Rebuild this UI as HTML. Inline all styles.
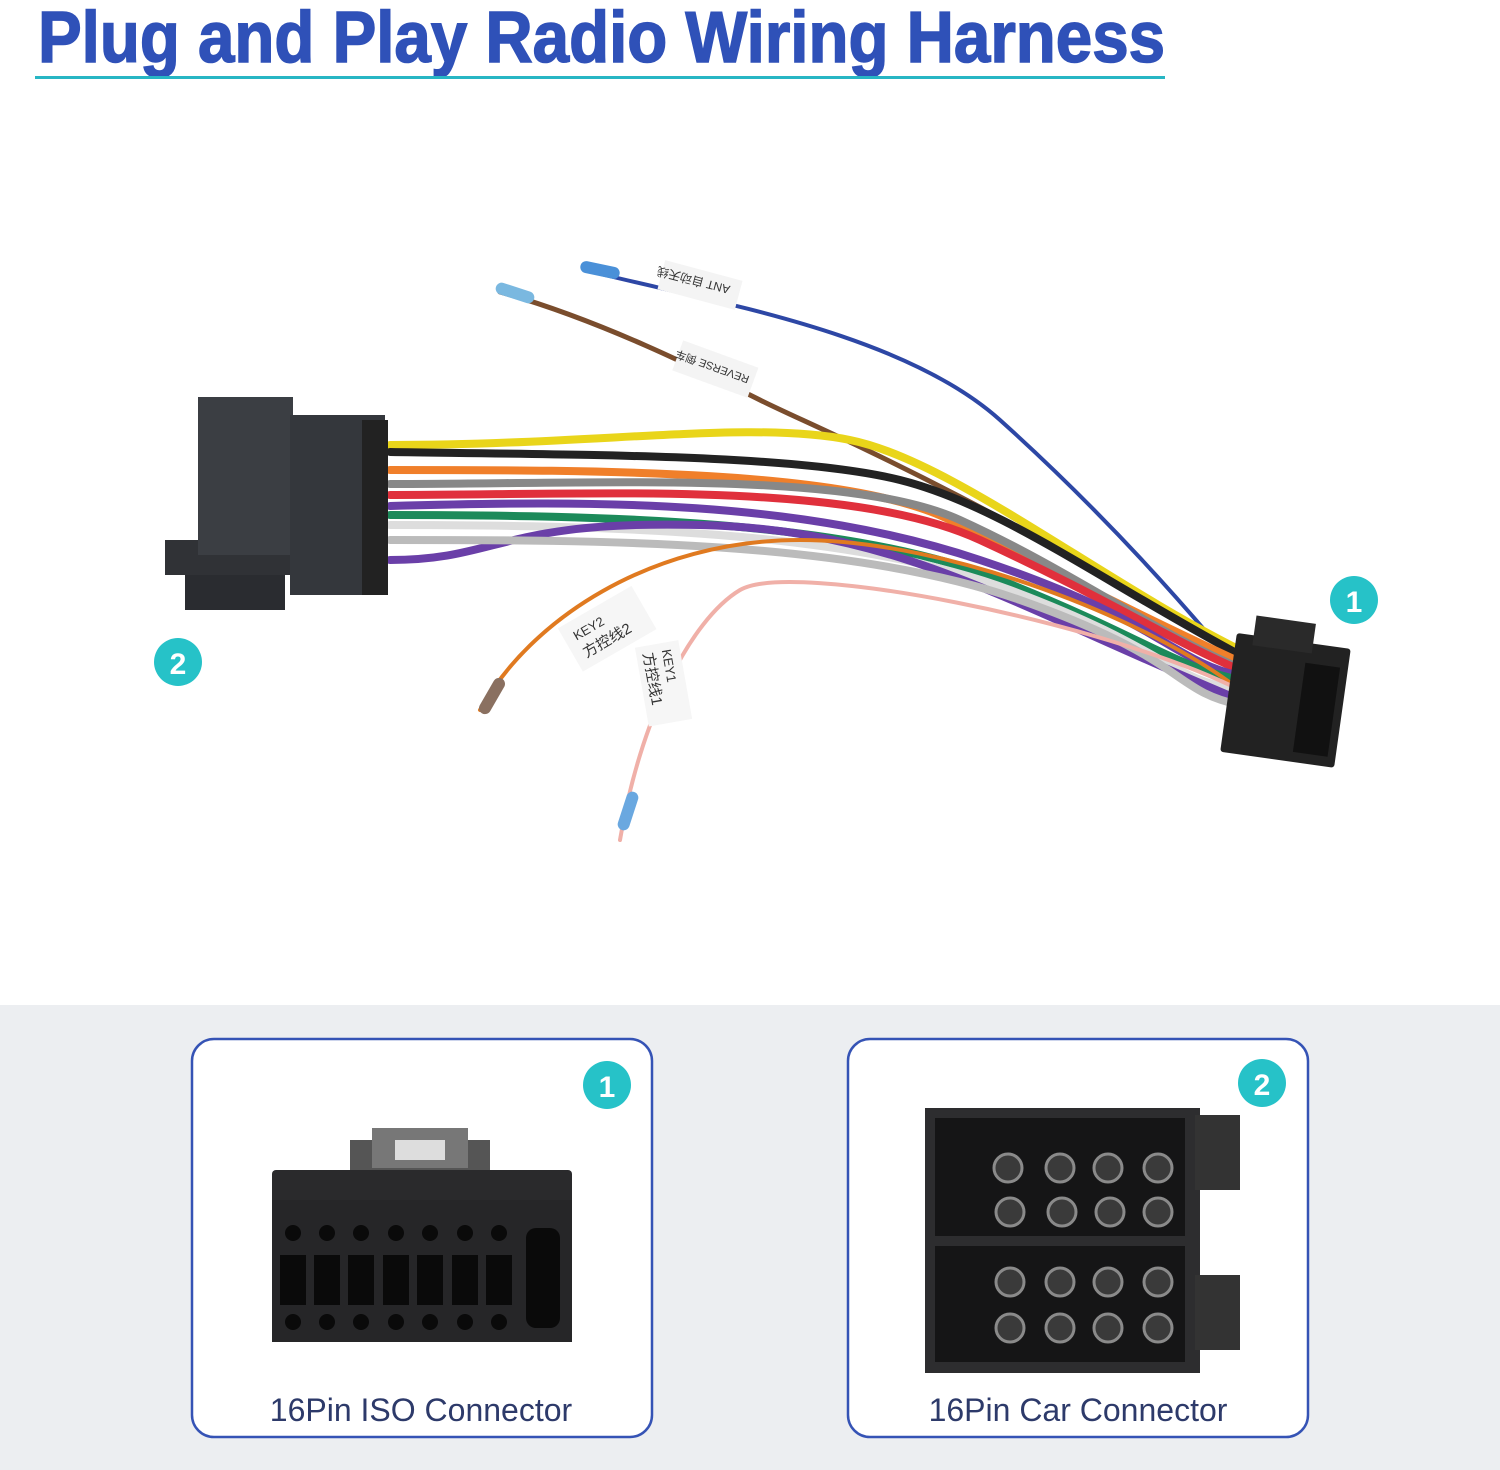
<!DOCTYPE html>
<html><head><meta charset="utf-8"><style>
html,body{margin:0;padding:0;width:1500px;height:1470px;background:#fff;overflow:hidden;font-family:"Liberation Sans","Noto Sans CJK SC",sans-serif}
svg{position:absolute;left:0;top:0}
</style></head><body>
<svg width="1500" height="1470" viewBox="0 0 1500 1470" xmlns="http://www.w3.org/2000/svg">
<rect x="0" y="1005" width="1500" height="465" fill="#eceef1"/>
<text x="38" y="62" font-family="Liberation Sans, sans-serif" font-weight="bold" font-size="72" fill="#2f51b8" stroke="#2f51b8" stroke-width="1.5" textLength="1127" lengthAdjust="spacingAndGlyphs">Plug and Play Radio Wiring Harness</text>
<rect x="35" y="76" width="1130" height="3" fill="#27b6c4"/>

<g fill="none" stroke-linecap="round">
<path d="M585 270 C700 300 900 330 1000 420 S1180 600 1230 660" stroke="#2d47a5" stroke-width="4"/>
<path d="M500 292 C600 320 700 370 760 400 S950 480 1230 650" stroke="#7a4d2d" stroke-width="5"/>
<path d="M390 445 C600 445 750 420 850 440 S1100 580 1240 650" stroke="#e9d51a" stroke-width="8"/>
<path d="M390 452 C600 455 800 455 900 480 S1100 580 1240 655" stroke="#222" stroke-width="8"/>
<path d="M390 470 C600 470 850 470 950 520 S1150 620 1240 662" stroke="#f07f2a" stroke-width="8"/>
<path d="M390 484 C600 484 850 470 960 520 S1150 630 1240 668" stroke="#888" stroke-width="8"/>
<path d="M390 495 C600 495 850 480 980 540 S1170 640 1240 670" stroke="#e0303c" stroke-width="8"/>
<path d="M390 506 C600 500 800 500 980 560 S1170 660 1240 676" stroke="#6a3fa8" stroke-width="8"/>
<path d="M390 515 C600 515 850 520 1000 580 S1170 665 1240 680" stroke="#1c8a5a" stroke-width="8"/>
<path d="M390 525 C600 525 850 530 1010 590 S1170 680 1240 690" stroke="#ddd" stroke-width="8"/>
<path d="M390 560 C500 560 500 520 700 525 S1000 600 1240 700" stroke="#6a3fa8" stroke-width="8"/>
<path d="M390 540 C600 540 850 540 1020 600 S1170 690 1240 705" stroke="#bbb" stroke-width="8"/>
<path d="M480 710 C530 620 650 540 800 540 S1150 620 1240 690" stroke="#e07a20" stroke-width="4"/>
<path d="M620 840 C640 720 690 620 740 590 S1100 620 1240 690" stroke="#f0b0a8" stroke-width="4"/>
</g>
<rect x="580" y="264" width="40" height="12" rx="6" fill="#4a90d8" transform="rotate(12 600 270)"/>
<rect x="495" y="287" width="40" height="12" rx="6" fill="#7ab8e0" transform="rotate(18 515 293)"/>
<rect x="472" y="690" width="40" height="12" rx="6" fill="#8a7060" transform="rotate(-60 492 696)"/>
<rect x="608" y="805" width="40" height="12" rx="6" fill="#6aa8e0" transform="rotate(-72 628 811)"/>
<g transform="rotate(195 700 285)"><rect x="660" y="270" width="80" height="30" fill="#f4f4f4"/><text x="670" y="292" font-size="12" fill="#333">ANT 自动天线</text></g>
<g transform="rotate(200 715 370)"><rect x="675" y="355" width="80" height="32" fill="#f4f4f4"/><text x="680" y="376" font-size="11" fill="#333">REVERSE 倒车</text></g>
<g transform="rotate(-30 605 630)"><rect x="565" y="605" width="85" height="50" fill="#f6f6f6"/><text x="575" y="625" font-size="13" fill="#333">KEY2</text><text x="575" y="645" font-size="15" fill="#333">方控线2</text></g>
<g transform="rotate(80 665 680)"><rect x="628" y="660" width="80" height="44" fill="#f6f6f6"/><text x="635" y="678" font-size="13" fill="#333">KEY1</text><text x="635" y="697" font-size="15" fill="#333">方控线1</text></g>

<rect x="185" y="575" width="100" height="35" fill="#2a2c30"/>
<rect x="165" y="540" width="125" height="35" fill="#303236"/>
<rect x="198" y="397" width="95" height="158" fill="#3b3e43"/>
<rect x="290" y="415" width="95" height="180" fill="#34373c"/>
<rect x="362" y="420" width="26" height="175" fill="#222"/>
<g transform="rotate(8 1283 700)">
<rect x="1228" y="640" width="115" height="120" fill="#222" rx="3"/>
<rect x="1245" y="620" width="60" height="30" fill="#2a2a2a"/>
<rect x="1300" y="660" width="35" height="90" fill="#111"/>
</g>
<circle cx="1354" cy="600" r="24" fill="#26c2c8"/><text x="1354" y="612" text-anchor="middle" font-size="30" font-weight="bold" fill="#fff">1</text>
<circle cx="178" cy="662" r="24" fill="#26c2c8"/><text x="178" y="674" text-anchor="middle" font-size="30" font-weight="bold" fill="#fff">2</text>

<rect x="192" y="1039" width="460" height="398" rx="22" fill="#fff" stroke="#3553b5" stroke-width="2.5"/>
<rect x="848" y="1039" width="460" height="398" rx="22" fill="#fff" stroke="#3553b5" stroke-width="2.5"/>
<circle cx="607" cy="1085" r="24" fill="#26c2c8"/><text x="607" y="1097" text-anchor="middle" font-size="30" font-weight="bold" fill="#fff">1</text>
<circle cx="1262" cy="1083" r="24" fill="#26c2c8"/><text x="1262" y="1095" text-anchor="middle" font-size="30" font-weight="bold" fill="#fff">2</text>
<text x="421" y="1421" text-anchor="middle" font-size="32" fill="#2d3a6a">16Pin ISO Connector</text>
<text x="1078" y="1421" text-anchor="middle" font-size="32" fill="#2d3a6a">16Pin Car Connector</text>

<rect x="350" y="1140" width="140" height="62" fill="#555"/>
<rect x="372" y="1128" width="96" height="40" fill="#777"/>
<rect x="395" y="1140" width="50" height="20" fill="#ddd"/>
<rect x="272" y="1170" width="300" height="172" fill="#2a2a2c" rx="4"/>
<rect x="272" y="1200" width="300" height="142" fill="#262628"/>
<g fill="#0a0a0a">
<circle cx="293" cy="1233" r="8"/><circle cx="327" cy="1233" r="8"/><circle cx="361" cy="1233" r="8"/><circle cx="396" cy="1233" r="8"/><circle cx="430" cy="1233" r="8"/><circle cx="465" cy="1233" r="8"/><circle cx="499" cy="1233" r="8"/>
<circle cx="293" cy="1322" r="8"/><circle cx="327" cy="1322" r="8"/><circle cx="361" cy="1322" r="8"/><circle cx="396" cy="1322" r="8"/><circle cx="430" cy="1322" r="8"/><circle cx="465" cy="1322" r="8"/><circle cx="499" cy="1322" r="8"/>
<rect x="280" y="1255" width="26" height="50"/><rect x="314" y="1255" width="26" height="50"/><rect x="348" y="1255" width="26" height="50"/><rect x="383" y="1255" width="26" height="50"/><rect x="417" y="1255" width="26" height="50"/><rect x="452" y="1255" width="26" height="50"/><rect x="486" y="1255" width="26" height="50"/>
<rect x="526" y="1228" width="34" height="100" rx="10"/>
</g>
<rect x="925" y="1108" width="275" height="265" fill="#2d2d2f"/>
<rect x="1195" y="1115" width="45" height="75" fill="#333"/>
<rect x="1195" y="1275" width="45" height="75" fill="#333"/>
<rect x="935" y="1118" width="250" height="118" fill="#151516"/>
<rect x="935" y="1246" width="250" height="116" fill="#151516"/>
<g fill="#3a3a3a" stroke="#8a8a8a" stroke-width="3">
<circle cx="1008" cy="1168" r="14"/><circle cx="1060" cy="1168" r="14"/><circle cx="1108" cy="1168" r="14"/><circle cx="1158" cy="1168" r="14"/>
<circle cx="1010" cy="1212" r="14"/><circle cx="1062" cy="1212" r="14"/><circle cx="1110" cy="1212" r="14"/><circle cx="1158" cy="1212" r="14"/>
<circle cx="1010" cy="1282" r="14"/><circle cx="1060" cy="1282" r="14"/><circle cx="1108" cy="1282" r="14"/><circle cx="1158" cy="1282" r="14"/>
<circle cx="1010" cy="1328" r="14"/><circle cx="1060" cy="1328" r="14"/><circle cx="1108" cy="1328" r="14"/><circle cx="1158" cy="1328" r="14"/>
</g>
</svg>
</body></html>
